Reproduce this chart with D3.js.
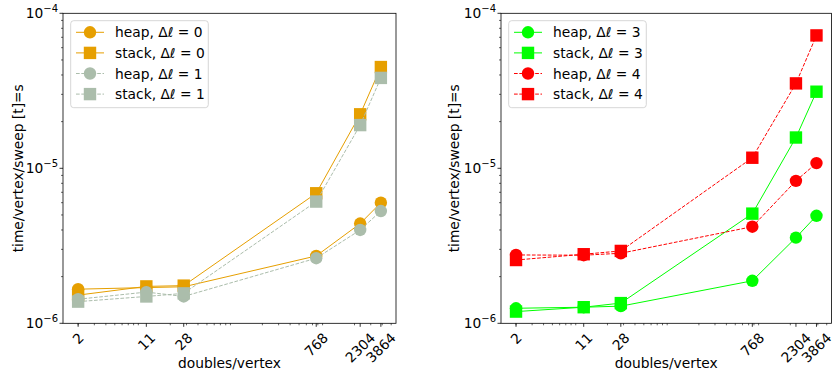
<!DOCTYPE html>
<html lang="en">
<head>
  <meta charset="utf-8" />
  <title>heap vs stack sweep time</title>
  <script src="https://cdn.jsdelivr.net/npm/d3@7"></script>
  <style>
    body { margin: 0; background: #fff; }
    svg text { font-family: "DejaVu Sans", sans-serif; fill: #000; }
  </style>
</head>
<body>
<div id="chart"></div>
<script>
// data
var doubles = [2, 11, 28, 768, 2304, 3864];
var tickLabels = ["2", "11", "28", "768", "2304", "3864"];

var heap0  = [1.66e-6, 1.70e-6, 1.72e-6, 2.72e-6, 4.4e-6, 6.0e-6];
var stack0 = [1.52e-6, 1.73e-6, 1.75e-6, 6.9e-6, 2.23e-5, 4.5e-5];
var heap1  = [1.43e-6, 1.59e-6, 1.49e-6, 2.63e-6, 4.0e-6, 5.3e-6];
var stack1 = [1.38e-6, 1.49e-6, 1.56e-6, 6.1e-6, 1.9e-5, 3.83e-5];

var heap3  = [1.25e-6, 1.27e-6, 1.29e-6, 1.88e-6, 3.57e-6, 4.94e-6];
var stack3 = [1.19e-6, 1.27e-6, 1.35e-6, 5.1e-6, 1.58e-5, 3.12e-5];
var heap4  = [2.76e-6, 2.75e-6, 2.83e-6, 4.2e-6, 8.3e-6, 1.08e-5];
var stack4 = [2.56e-6, 2.79e-6, 2.93e-6, 1.17e-5, 3.53e-5, 7.2e-5];

var yTicks = [1e-6, 1e-5, 1e-4];
var yTickExp = ["\u22126", "\u22125", "\u22124"];

var leftSeries = [
  {name: "heap, ", dl: "0", values: heap0, color: "#e69f00", shape: "circle", dash: null},
  {name: "stack, ", dl: "0", values: stack0, color: "#e69f00", shape: "square", dash: null},
  {name: "heap, ", dl: "1", values: heap1, color: "#abbdab", shape: "circle", dash: "3.7,1.6"},
  {name: "stack, ", dl: "1", values: stack1, color: "#abbdab", shape: "square", dash: "3.7,1.6"}
];
var rightSeries = [
  {name: "heap, ", dl: "3", values: heap3, color: "#00ff00", shape: "circle", dash: null},
  {name: "stack, ", dl: "3", values: stack3, color: "#00ff00", shape: "square", dash: null},
  {name: "heap, ", dl: "4", values: heap4, color: "#ff0000", shape: "circle", dash: "3.7,1.6"},
  {name: "stack, ", dl: "4", values: stack4, color: "#ff0000", shape: "square", dash: "3.7,1.6"}
];

var W = 833, H = 375;
var plotTop = 13.3, plotBottom = 323.3;
var fs = 13.8;

var svg = d3.select("#chart").append("svg")
  .attr("width", W)
  .attr("height", H);

function drawMarker(g, shape, x, y, color) {
  if (shape == "circle") {
    g.append("circle").attr("cx", x).attr("cy", y).attr("r", 6.2)
      .attr("fill", color);
  } else {
    g.append("rect").attr("x", x - 6.2).attr("y", y - 6.2)
      .attr("width", 12.4).attr("height", 12.4)
      .attr("fill", color);
  }
}

function drawPanel(left, right, series, labelX) {
  var g = svg.append("g");

  // x padding like matplotlib: 5% of the log range
  var lo = Math.log10(d3.min(doubles)), hi = Math.log10(d3.max(doubles));
  var pad = (hi - lo) * 0.05;
  var x = d3.scaleLog().domain([Math.pow(10, lo - pad), Math.pow(10, hi + pad)]).range([left, right]);
  var y = d3.scaleLog().domain([1e-6, 1e-4]).range([plotBottom, plotTop]);

  // minor ticks
  var xd = x.domain();
  for (var k = 0; k < 4; k++) {
    for (var m = 2; m < 10; m++) {
      var v = m * Math.pow(10, k);
      if (v < xd[0] || v > xd[1]) continue;
      g.append("line").attr("x1", x(v)).attr("x2", x(v))
        .attr("y1", plotBottom).attr("y2", plotBottom + 2)
        .attr("stroke", "#000").attr("stroke-width", 0.6);
    }
  }
  for (var k = -6; k < -4; k++) {
    for (var m = 2; m < 10; m++) {
      var v = m * Math.pow(10, k);
      g.append("line").attr("x1", left).attr("x2", left - 2)
        .attr("y1", y(v)).attr("y2", y(v))
        .attr("stroke", "#000").attr("stroke-width", 0.6);
    }
  }

  // major x ticks + rotated labels
  doubles.forEach(function(d, i) {
    var px = x(d);
    g.append("line").attr("x1", px).attr("x2", px)
      .attr("y1", plotBottom).attr("y2", plotBottom + 3.5)
      .attr("stroke", "#000").attr("stroke-width", 0.8);
    var t = g.append("text")
      .attr("text-anchor", "middle")
      .attr("dominant-baseline", "central")
      .style("font-size", fs + "px")
      .text(tickLabels[i]);
    var w = t.node().getComputedTextLength();
    var half = (w + fs) * 0.3536;
    t.attr("transform", "translate(" + px + "," + (plotBottom + 7 + half) + ") rotate(-45)");
  });

  // major y ticks
  yTicks.forEach(function(v, i) {
    g.append("line").attr("x1", left).attr("x2", left - 3.5)
      .attr("y1", y(v)).attr("y2", y(v))
      .attr("stroke", "#000").attr("stroke-width", 0.8);
    var t = g.append("text")
      .attr("x", left - 5)
      .attr("y", y(v) + 5)
      .attr("text-anchor", "end")
      .style("font-size", fs + "px");
    t.append("tspan").text("10");
    t.append("tspan").attr("dy", -6).style("font-size", "10px").text(yTickExp[i]);
  });

  // series lines then markers
  series.forEach(function(s) {
    var line = d3.line()
      .x(function(d, i) { return x(doubles[i]); })
      .y(function(d) { return y(d); });
    g.append("path").attr("d", line(s.values))
      .attr("fill", "none")
      .attr("stroke", s.color)
      .attr("stroke-width", 1)
      .attr("stroke-dasharray", s.dash);
    s.values.forEach(function(v, i) {
      drawMarker(g, s.shape, x(doubles[i]), y(v), s.color);
    });
  });

  // frame
  g.append("rect").attr("x", left).attr("y", plotTop)
    .attr("width", right - left).attr("height", plotBottom - plotTop)
    .attr("fill", "none").attr("stroke", "#000").attr("stroke-width", 0.8);

  // axis labels
  g.append("text")
    .attr("x", (left + right) / 2).attr("y", 368)
    .attr("text-anchor", "middle")
    .style("font-size", fs + "px")
    .text("doubles/vertex");
  g.append("text")
    .attr("transform", "translate(" + labelX + "," + ((plotTop + plotBottom) / 2) + ") rotate(-90)")
    .attr("text-anchor", "middle")
    .attr("dominant-baseline", "central")
    .style("font-size", fs + "px")
    .text("time/vertex/sweep [t]=s");

  // legend
  var lx = left + 7.7, ly = plotTop + 7.4;
  var leg = g.append("g");
  leg.append("rect").attr("x", lx).attr("y", ly)
    .attr("width", 137.6).attr("height", 87)
    .attr("rx", 3)
    .attr("fill", "#fff").attr("fill-opacity", 0.8)
    .attr("stroke", "#cccccc").attr("stroke-width", 0.8);
  series.forEach(function(s, i) {
    var ry = ly + 11.6 + i * 20.6;
    leg.append("line").attr("x1", lx + 5.3).attr("x2", lx + 33.3)
      .attr("y1", ry).attr("y2", ry)
      .attr("stroke", s.color).attr("stroke-width", 1)
      .attr("stroke-dasharray", s.dash);
    drawMarker(leg, s.shape, lx + 19.3, ry, s.color);
    var t = leg.append("text")
      .attr("x", lx + 44.3).attr("y", ry)
      .attr("dominant-baseline", "central")
      .style("font-size", fs + "px");
    t.append("tspan").text(s.name + "\u0394");
    t.append("tspan").style("font-style", "italic").text("\u2113");
    t.append("tspan").text(" = " + s.dl);
  });
}

drawPanel(63, 396, leftSeries, 17.5);
drawPanel(501, 831.5, rightSeries, 454);
</script>
</body>
</html>
